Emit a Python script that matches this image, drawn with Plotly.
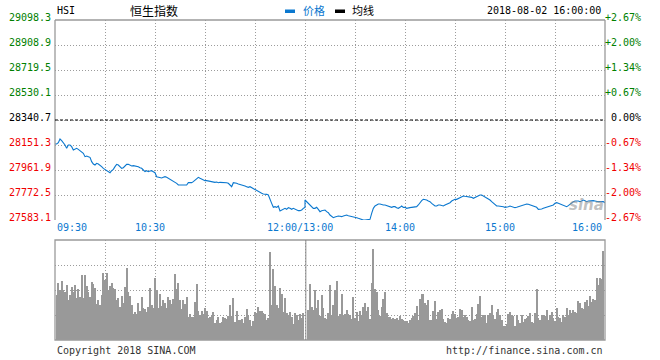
import plotly.graph_objects as go

# ---------------- data ----------------
prev_close = 28340.7
price_ticks = [29098.3, 28908.9, 28719.5, 28530.1, 28340.7, 28151.3, 27961.9, 27772.5, 27583.1]
pct_ticks = ["+2.67%", "+2.00%", "+1.34%", "+0.67%", "0.00%", "-0.67%", "-1.34%", "-2.00%", "-2.67%"]
time_labels = ["09:30", "10:30", "12:00/13:00", "14:00", "15:00", "16:00"]
time_label_min = [0, 60, 150, 210, 270, 330]

# morning prices, one per minute 09:30 .. 12:00
price_am = [
    28158.9, 28158.9, 28169.0, 28196.8, 28184.1, 28169.0, 28151.3, 28126.0, 28151.3, 28151.3,
    28138.7, 28113.4, 28118.5, 28126.0, 28118.5, 28108.4, 28093.2, 28088.2, 28062.9, 28068.0,
    28062.9, 28057.9, 28025.0, 28007.4, 27999.8, 28012.4, 28007.4, 27999.8, 27987.2, 27974.5,
    27967.0, 27956.9, 27949.3, 27941.7, 27956.9, 27967.0, 27987.2, 28004.8, 27999.8, 27987.2,
    27974.5, 27979.6, 27992.2, 28004.8, 28004.8, 27999.8, 27992.2, 27994.7, 27992.2, 27994.7,
    27987.2, 27979.6, 27974.5, 27961.9, 27949.3, 27956.9, 27949.3, 27954.3, 27956.9, 27949.3,
    27941.7, 27911.4, 27906.3, 27906.3, 27901.3, 27906.3, 27911.4, 27906.3, 27898.8, 27891.2,
    27886.1, 27878.6, 27871.0, 27860.9, 27848.3, 27848.3, 27848.3, 27848.3, 27848.3, 27848.3,
    27865.9, 27865.9, 27865.9, 27873.5, 27886.1, 27898.8, 27906.3, 27898.8, 27891.2, 27886.1,
    27881.1, 27881.1, 27878.6, 27873.5, 27873.5, 27868.5, 27868.5, 27871.0, 27865.9, 27868.5,
    27868.5, 27865.9, 27865.9, 27865.9, 27860.9, 27848.3, 27835.6, 27865.9, 27865.9, 27860.9,
    27855.8, 27853.3, 27848.3, 27843.2, 27840.7, 27835.6, 27830.6, 27835.6, 27828.1, 27823.0,
    27810.4, 27805.3, 27797.7, 27792.7, 27785.1, 27780.1, 27780.1, 27777.6, 27772.5, 27734.6,
    27709.4, 27679.1, 27684.1, 27679.1, 27689.2, 27651.3, 27658.9, 27663.9, 27671.5, 27663.9,
    27676.6, 27671.5, 27663.9, 27671.5, 27663.9, 27658.9, 27653.8, 27653.8, 27658.9, 27671.5,
    27679.1,
]

# afternoon prices, one per minute 13:00 .. 16:00
price_pm = [
    27734.6, 27722.0, 27709.4, 27696.8, 27679.1, 27671.5, 27671.5, 27679.1, 27663.9, 27646.2,
    27653.8, 27653.8, 27658.9, 27646.2, 27638.7, 27621.0, 27613.4, 27600.8, 27605.8, 27610.9,
    27613.4, 27610.9,
    27608.4, 27613.4, 27615.9, 27621.0, 27615.9, 27613.4, 27608.4, 27608.4, 27608.4, 27600.8,
    27595.7, 27590.7, 27588.2, 27583.1, 27583.1, 27583.1, 27583.1, 27588.2, 27633.6, 27671.5,
    27689.2, 27696.8, 27704.3, 27704.3, 27699.3, 27696.8, 27696.8, 27691.7, 27689.2, 27684.1,
    27679.1, 27684.1, 27684.1, 27676.6, 27671.5, 27679.1, 27689.2, 27679.1, 27679.1, 27671.5,
    27671.5, 27676.6, 27679.1, 27679.1, 27679.1, 27684.1, 27696.8, 27714.4, 27729.6, 27739.7,
    27739.7, 27734.6, 27727.1, 27722.0, 27709.4, 27696.8, 27689.2, 27689.2, 27696.8, 27696.8,
    27694.2, 27689.2, 27696.8, 27701.8, 27709.4, 27714.4, 27727.1, 27734.6, 27739.7, 27739.7,
    27747.3, 27754.8, 27759.9, 27764.9, 27762.4, 27759.9, 27759.9, 27759.9, 27754.8, 27747.3,
    27754.8, 27759.9, 27764.9, 27772.5, 27772.5, 27764.9, 27759.9, 27752.3, 27742.2, 27734.6,
    27722.0, 27709.4, 27696.8, 27689.2, 27689.2, 27689.2, 27684.1, 27684.1, 27679.1, 27679.1,
    27684.1, 27689.2, 27684.1, 27676.6, 27676.6, 27679.1, 27684.1, 27689.2, 27691.7, 27696.8,
    27701.8, 27704.3, 27701.8, 27696.8, 27696.8, 27689.2, 27684.1, 27679.1, 27663.9, 27663.9,
    27666.5, 27671.5, 27676.6, 27679.1, 27684.1, 27689.2, 27691.7, 27696.8, 27709.4, 27714.4,
    27709.4, 27704.3, 27696.8, 27689.2, 27686.6, 27684.1, 27691.7, 27704.3, 27714.4, 27722.0,
    27727.1, 27729.6, 27727.1, 27722.0, 27727.1, 27734.6, 27729.6, 27722.0, 27727.1, 27729.6,
    27729.6, 27729.6, 27727.1, 27722.0, 27722.0, 27722.0, 27722.0, 27722.0, 27714.4,
]

# per-minute volume (relative units, 100 = top of volume panel)
vol_am = [
    45, 57, 50, 59, 50, 48, 55, 40, 45, 53,
    48, 55, 42, 51, 43, 65, 42, 65, 54, 48,
    43, 58, 56, 52, 36, 40, 35, 45, 67, 60,
    67, 50, 54, 57, 52, 51, 40, 42, 33, 44,
    37, 53, 72, 48, 44, 35, 26, 28, 26, 37,
    29, 43, 32, 31, 28, 33, 52, 35, 32, 62,
    50, 32, 46, 34, 40, 37, 32, 43, 40, 36,
    41, 66, 51, 57, 40, 31, 40, 36, 43, 23,
    26, 23,
    23, 38, 56, 29, 25, 29, 26, 32, 29, 22,
    23, 25, 28, 17, 20, 23, 17, 18, 23, 22,
    21, 24, 35, 24, 42, 18, 29, 20, 20, 21,
    17, 23, 31, 25, 20, 14, 19, 28, 27, 33,
    29, 29, 27, 26, 20, 22, 88, 35, 71, 54,
    35, 32, 52, 46, 28, 42, 27, 25, 28, 23,
    16, 27, 25, 20, 26, 22, 27,
]
vol_pm = [
    30, 56, 33, 30, 50, 32, 40, 24, 45, 32, 22, 21, 27, 55,
    25, 35, 50, 59, 24, 26, 46, 24, 26, 30,
    26, 25, 21, 43, 22, 28, 19, 29, 25, 33,
    37, 29, 33, 21, 57, 91, 51, 48, 30, 24,
    33, 41, 48, 27, 23, 23, 21, 22, 21, 22,
    20, 24, 21, 20, 19, 19, 17, 20, 22, 24,
    27, 34, 20, 41, 46, 46, 37, 35, 40, 20,
    20, 29, 39, 21, 28, 30, 31, 21, 18, 17,
    22, 21, 26, 29, 26, 22, 23, 31, 30, 23,
    25, 23, 20,
    19, 33, 20, 21, 26, 36, 44, 23, 25, 25,
    17, 25, 27, 35, 25, 21, 28, 31, 25, 20,
    14, 14, 16, 26, 28, 25, 24, 14, 25, 20,
    17, 25, 18, 21, 22, 24, 27, 18, 17, 27,
    51, 22, 20, 25, 25, 24, 30, 20, 25, 28,
    22, 19, 32, 23, 22, 18, 25, 23, 32, 25,
    30, 27, 30, 28, 27, 39, 37, 32, 31, 38,
    40, 34, 44, 38, 41, 40, 62, 55, 62, 61,
    89,
]

# ---------------- layout helpers (pixel -> paper) ----------------
L, R, T, B, W, H = 55, 55, 20, 20, 660, 360
PW, PH = W - L - R, H - T - B
def px(x):
    return (x - L) / PW
def py(y):
    return (H - B - y) / PH

MONO = "DejaVu Sans Mono"
CJK = "Noto Sans CJK SC"
BLUE = "#0b78cf"
GREEN = "#008000"
RED = "#f00000"
GRID = "#9c9c9c"
DOT = "1px,2px"
BORDER = "#9a9a9a"

x_am = list(range(len(price_am)))
x_pm = [150 + i for i in range(len(price_pm))]
vx_am = [1 + i for i in range(len(vol_am))]
vx_pm = [152 + i for i in range(len(vol_pm))]

fig = go.Figure()
fig.add_trace(go.Scatter(x=x_am + x_pm, y=price_am + price_pm,
                         mode="lines", line=dict(color=BLUE, width=1.1),
                         hoverinfo="skip", xaxis="x", yaxis="y"))
fig.add_trace(go.Bar(x=vx_am + vx_pm, y=vol_am + vol_pm, width=0.6,
                     marker=dict(color="#999999", line=dict(width=0)),
                     hoverinfo="skip", xaxis="x2", yaxis="y2"))

grid_min = [30, 60, 90, 120, 150, 180, 210, 240, 270, 300]
main_top = py(20)
main_bot = py(220)
vol_top = py(240)
vol_bot = py(340)

fig.update_layout(
    width=W, height=H, margin=dict(l=L, r=R, t=T, b=B),
    paper_bgcolor="white", plot_bgcolor="white", showlegend=False, bargap=0,
    xaxis=dict(domain=[0, 1], anchor="y", range=[0, 330], tickvals=grid_min,
               showticklabels=False, showgrid=True, gridcolor=GRID, griddash=DOT,
               gridwidth=1, zeroline=False, showline=False, ticks=""),
    yaxis=dict(domain=[main_bot, main_top], range=[price_ticks[-1], price_ticks[0]],
               tickvals=price_ticks[1:-1], showticklabels=False, showgrid=True,
               gridcolor=GRID, griddash=DOT, zeroline=False, showline=False, ticks=""),
    xaxis2=dict(domain=[0, 1], anchor="y2", range=[0, 330], tickvals=grid_min,
                showticklabels=False, showgrid=True, gridcolor=GRID, griddash=DOT,
                zeroline=False, showline=False, ticks=""),
    yaxis2=dict(domain=[vol_bot, vol_top], range=[0, 100], tickvals=[25, 50, 75],
                showticklabels=False, showgrid=True, gridcolor=GRID, griddash=DOT,
                zeroline=False, showline=False, ticks=""),
)

shapes = []
# main chart borders: top, left, right
for x0, y0, x1, y1 in [(0, main_top, 1, main_top), (0, main_bot, 0, main_top), (1, main_bot, 1, main_top)]:
    shapes.append(dict(type="line", xref="paper", yref="paper", x0=x0, y0=y0, x1=x1, y1=y1,
                       line=dict(color=BORDER, width=1.3)))
# previous close dashed line
shapes.append(dict(type="line", xref="paper", yref="y", x0=0, x1=1, y0=prev_close, y1=prev_close,
                   line=dict(color="#000000", width=1, dash="3px,2px")))
# volume box
shapes.append(dict(type="rect", xref="paper", yref="paper", x0=0, x1=1, y0=vol_bot, y1=vol_top,
                   line=dict(color=BORDER, width=1.3)))
# session break in volume chart
shapes.append(dict(type="line", xref="x2", yref="paper", x0=150.5, x1=150.5, y0=vol_bot, y1=vol_top,
                   line=dict(color="#8a8a8a", width=1)))
# legend dashes
shapes.append(dict(type="rect", xref="paper", yref="paper", x0=px(285), x1=px(295), y0=py(13), y1=py(9.5),
                   fillcolor=BLUE, line=dict(width=0)))
shapes.append(dict(type="rect", xref="paper", yref="paper", x0=px(335), x1=px(345), y0=py(13), y1=py(9.5),
                   fillcolor="#000000", line=dict(width=0)))
fig.update_layout(shapes=shapes)

ann = []
# left price labels and right percent labels
for i, (v, p) in enumerate(zip(price_ticks, pct_ticks)):
    c = GREEN if i < 4 else ("#000000" if i == 4 else RED)
    ann.append(dict(x=0, xref="paper", y=v, yref="y", text=f"{v:.1f}", showarrow=False,
                    xanchor="right", yanchor="middle", xshift=-2, yshift=3,
                    font=dict(family=MONO, size=10, color=c)))
    ann.append(dict(x=1, xref="paper", y=v, yref="y", text=p, showarrow=False,
                    xanchor="right", yanchor="middle", xshift=38, yshift=3,
                    font=dict(family=MONO, size=10, color=c)))
# time labels
for lab, m in zip(time_labels, time_label_min):
    if m == 0:
        xa, xs = "left", 0
    elif m == 330:
        xa, xs = "right", -1
    else:
        xa, xs = "center", -5
    ann.append(dict(x=m, xref="x", y=py(227), yref="paper", text=lab, showarrow=False,
                    xanchor=xa, yanchor="middle", xshift=xs,
                    font=dict(family=MONO, size=10, color=BLUE)))
# header
ann += [
    dict(x=px(55), y=py(10), xref="paper", yref="paper", text="HSI", showarrow=False,
         xanchor="left", yanchor="middle", font=dict(family=MONO, size=10, color="#000")),
    dict(x=px(154), y=py(10), xref="paper", yref="paper", text="恒生指数", showarrow=False,
         xanchor="center", yanchor="middle", font=dict(family=CJK, size=12, color="#000")),
    dict(x=px(301), y=py(10), xref="paper", yref="paper", text="价格", showarrow=False,
         xanchor="left", yanchor="middle", font=dict(family=CJK, size=11, color=BLUE)),
    dict(x=px(350), y=py(10), xref="paper", yref="paper", text="均线", showarrow=False,
         xanchor="left", yanchor="middle", font=dict(family=CJK, size=11, color="#000")),
    dict(x=px(603), y=py(10), xref="paper", yref="paper", text="2018-08-02 16:00:00", showarrow=False,
         xanchor="right", yanchor="middle", font=dict(family=MONO, size=10, color="#000")),
    dict(x=px(55), y=py(350), xref="paper", yref="paper", text="Copyright 2018 SINA.COM", showarrow=False,
         xanchor="left", yanchor="middle", font=dict(family=MONO, size=10, color="#333")),
    dict(x=px(605), y=py(350), xref="paper", yref="paper", text="http://finance.sina.com.cn", showarrow=False,
         xanchor="right", yanchor="middle", font=dict(family=MONO, size=10, color="#333")),
    dict(x=px(586), y=py(205), xref="paper", yref="paper", text="<b><i>sina</i></b>", showarrow=False,
         xanchor="center", yanchor="middle", font=dict(family="DejaVu Sans", size=15, color="rgba(140,140,140,0.55)")),
]
fig.update_layout(annotations=ann)

fig.write_html("out.html", config={"displayModeBar": False})

# remove the browser's default 8px body margin so the figure fills the window exactly
with open("out.html", "r", encoding="utf-8") as f:
    html = f.read()
html = html.replace("<body>", '<body style="margin:0;padding:0;overflow:hidden">', 1)
with open("out.html", "w", encoding="utf-8") as f:
    f.write(html)
